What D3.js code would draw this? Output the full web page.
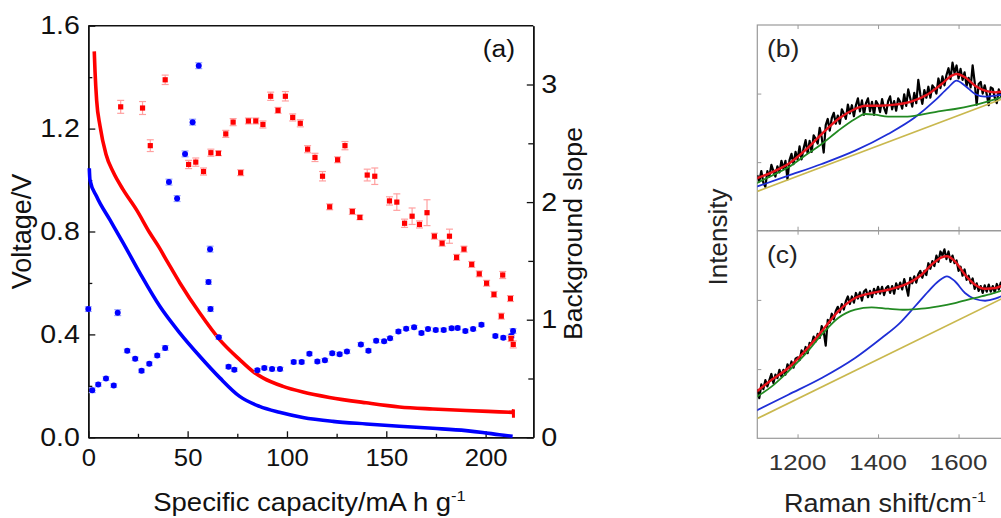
<!DOCTYPE html>
<html>
<head>
<meta charset="utf-8">
<script src="https://cdn.jsdelivr.net/npm/d3@7"></script>
<style>
  body { margin: 0; background: #fff; }
  svg { display: block; font-family: Arial, "Liberation Sans", sans-serif; }
</style>
</head>
<body>
<svg id="chart" width="1001" height="518"></svg>
<script>
// ---- (a) voltage curves ----
const redCurveCap = [3.0, 3.4, 4.2, 5.9, 8.9, 12.6, 17.6, 24.3, 31.0, 35.5, 40, 46.1, 56.1, 66.2, 76.2, 82.9, 87.9, 98, 108, 121.4, 139.9, 156.6, 173.4, 190.1, 206.9, 213.6, 214, 214];
const redCurveV = [1.50, 1.42, 1.31, 1.21, 1.10, 1.03, 0.962, 0.884, 0.794, 0.74, 0.68, 0.60, 0.483, 0.379, 0.302, 0.256, 0.231, 0.198, 0.176, 0.155, 0.134, 0.118, 0.110, 0.104, 0.099, 0.097, 0.108, 0.076];
const blueCurveCap = [0.5, 0.85, 4.2, 10.9, 17.6, 26, 36, 46.1, 56.1, 66.2, 76.2, 86.2, 96.2, 108, 123.1, 139.9, 156.6, 173.4, 190.1, 198.5, 206.9, 213.6];
const blueCurveV = [1.046, 1.0, 0.936, 0.845, 0.755, 0.638, 0.509, 0.405, 0.315, 0.231, 0.159, 0.12, 0.097, 0.077, 0.062, 0.052, 0.043, 0.035, 0.026, 0.019, 0.010, 0.004];

// ---- (a) background slope points (right axis) ----
const redCap = [16.3, 27.3, 31.2, 38.7, 50.5, 54.1, 58.0, 61.7, 65.5, 69.2, 72.9, 76.7, 80.6, 84.3, 87.9, 91.8, 95.5, 99.2, 102.9, 106.7, 110.4, 114.1, 117.9, 121.5, 125.5, 129.2, 132.9, 136.7, 140.4, 144.2, 151.6, 155.3, 159.2, 163.0, 166.7, 170.5, 174.2, 178.1, 181.8, 185.4, 189.1, 193.0, 196.8, 200.5, 204.2, 207.9, 208.6, 212.5, 212.8, 213.9];
const redSlope = [2.81, 2.80, 2.48, 3.04, 2.32, 2.34, 2.26, 2.42, 2.415, 2.58, 2.68, 2.25, 2.69, 2.69, 2.66, 2.90, 2.78, 2.90, 2.72, 2.67, 2.45, 2.38, 2.22, 1.96, 2.36, 2.48, 1.92, 1.87, 2.23, 2.22, 2.01, 2.00, 1.82, 1.88, 1.81, 1.91, 1.71, 1.65, 1.71, 1.53, 1.60, 1.47, 1.39, 1.31, 1.215, 1.03, 1.38, 1.18, 0.84, 0.79];
const redErr = [0.055, 0.055, 0.05, 0.04, 0.035, 0.035, 0.03, 0.03, 0.02, 0.03, 0.03, 0.025, 0.025, 0.025, 0.03, 0.035, 0.025, 0.04, 0.03, 0.03, 0.03, 0.035, 0.04, 0.025, 0.025, 0.035, 0.025, 0.02, 0.05, 0.07, 0.035, 0.07, 0.035, 0.07, 0.03, 0.11, 0.025, 0.025, 0.06, 0.025, 0.025, 0.025, 0.025, 0.025, 0.025, 0.025, 0.03, 0.025, 0.025, 0.03];

const blueCap = [0.0, 2.0, 5.0, 8.9, 12.8, 14.8, 19.6, 23.6, 26.8, 30.7, 34.7, 38.7, 40.6, 44.7, 48.7, 52.5, 55.6, 60.5, 61.3, 61.5, 65.7, 70.6, 73.5, 85.1, 88.6, 92.5, 96.5, 103.4, 107.4, 111.3, 115.3, 119.1, 122.8, 126.5, 130.2, 137.2, 141.0, 144.9, 148.9, 151.9, 156.1, 160.0, 164.0, 167.7, 171.0, 174.9, 178.9, 182.9, 185.9, 189.8, 193.7, 197.9, 204.9, 208.9, 212.9, 213.8];
const blueSlope = [1.09, 0.40, 0.45, 0.50, 0.44, 1.06, 0.735, 0.667, 0.565, 0.625, 0.695, 0.76, 2.17, 2.03, 2.41, 2.68, 3.16, 1.32, 1.60, 1.09, 0.85, 0.60, 0.575, 0.57, 0.59, 0.58, 0.58, 0.64, 0.64, 0.71, 0.645, 0.655, 0.715, 0.707, 0.729, 0.79, 0.737, 0.82, 0.817, 0.842, 0.90, 0.924, 0.936, 0.887, 0.921, 0.913, 0.913, 0.927, 0.93, 0.904, 0.921, 0.958, 0.862, 0.847, 0.862, 0.904];
const blueErr = [0.02, 0.02, 0.015, 0.015, 0.015, 0.025, 0.015, 0.015, 0.015, 0.015, 0.015, 0.02, 0.025, 0.025, 0.025, 0.025, 0.025, 0.02, 0.025, 0.02, 0.015, 0.015, 0.015, 0.015, 0.015, 0.015, 0.015, 0.015, 0.015, 0.015, 0.015, 0.015, 0.015, 0.015, 0.015, 0.015, 0.015, 0.015, 0.015, 0.015, 0.015, 0.015, 0.015, 0.015, 0.015, 0.015, 0.015, 0.015, 0.015, 0.015, 0.015, 0.015, 0.015, 0.015, 0.015, 0.02];

const capTicks = [0, 50, 100, 150, 200];
const capMinor = [25, 75, 125, 175];
const voltTicks = [0, 0.4, 0.8, 1.2, 1.6];
const voltMinor = [0.2, 0.6, 1.0, 1.4];
const slopeTicks = [0, 1, 2, 3];
const slopeMinor = [0.5, 1.5, 2.5];

// ---- (b), (c) Raman spectra ----
// measured spectra are sampled every 5 cm-1 from 1100 to 1710
const ramanShift = d3.range(1100, 1711, 5);
const spectrumB = [
  0.81, 0.72, 0.87, 0.70, 0.64, 0.87, 0.79, 0.96, 0.87, 0.79,
  0.94, 0.85, 1.02, 0.90, 1.02, 0.75, 1.03, 1.12, 0.97, 1.15,
  1.04, 1.23, 1.04, 1.20, 1.32, 1.13, 1.31, 1.15, 1.39, 1.34,
  1.27, 1.50, 1.36, 1.14, 1.54, 1.63, 1.46, 1.64, 1.72, 1.56,
  1.68, 1.56, 1.77, 1.71, 1.63, 1.84, 1.71, 1.83, 1.67, 1.83,
  1.93, 1.74, 1.90, 1.69, 1.86, 1.93, 1.74, 1.88, 1.69, 1.89,
  1.84, 1.73, 1.92, 1.79, 1.71, 1.89, 1.96, 1.77, 1.89, 1.75,
  1.93, 1.88, 1.78, 1.99, 1.82, 2.06, 1.93, 1.81, 2.01, 1.86,
  2.20, 1.99, 1.85, 2.05, 1.94, 2.10, 1.94, 2.12, 2.08, 2.00,
  2.22, 2.08, 2.25, 2.12, 2.27, 2.37, 2.21, 2.45, 2.30, 2.41,
  2.22, 2.36, 2.20, 2.31, 2.11, 2.23, 2.09, 2.41, 2.17, 1.84,
  2.14, 2.17, 2.00, 2.12, 1.99, 1.83, 2.09, 2.07, 1.94, 1.86,
  2.06, 1.96, 2.06
];
const spectrumC = [
  0.71, 0.58, 0.78, 0.71, 0.84, 0.75, 0.84, 0.93, 0.80, 0.92,
  0.87, 0.99, 0.89, 0.99, 0.92, 1.07, 1.01, 1.11, 1.02, 1.15,
  1.17, 1.13, 1.27, 1.21, 1.32, 1.23, 1.38, 1.36, 1.47, 1.40,
  1.51, 1.45, 1.62, 1.54, 1.34, 1.71, 1.67, 1.80, 1.72, 1.84,
  1.90, 1.82, 1.94, 1.86, 1.98, 2.05, 1.94, 2.05, 1.96, 2.10,
  2.02, 2.11, 1.99, 2.12, 2.15, 2.04, 2.13, 2.04, 2.16, 2.09,
  2.19, 2.09, 2.19, 2.07, 2.17, 2.20, 2.10, 2.20, 2.09, 2.24,
  2.16, 2.25, 2.15, 2.30, 2.19, 2.06, 2.32, 2.24, 2.34, 2.25,
  2.37, 2.42, 2.32, 2.42, 2.36, 2.53, 2.45, 2.56, 2.49, 2.64,
  2.55, 2.70, 2.64, 2.73, 2.59, 2.70, 2.55, 2.64, 2.53, 2.57,
  2.42, 2.48, 2.35, 2.44, 2.29, 2.35, 2.24, 2.31, 2.16, 2.24,
  2.13, 2.20, 2.10, 2.21, 2.12, 2.22, 2.12, 2.20, 2.11, 2.23,
  2.15, 2.25, 2.17
];

const fitShiftB = [1094, 1136, 1177, 1218, 1260, 1301, 1343, 1368, 1401, 1442, 1484, 1525, 1558, 1583, 1595, 1616, 1641, 1666, 1691, 1706, 1725];
const fitB = [0.754, 0.852, 0.973, 1.167, 1.410, 1.629, 1.775, 1.823, 1.823, 1.838, 1.887, 1.994, 2.139, 2.261, 2.285, 2.237, 2.115, 2.042, 2.018, 2.027, 2.04];
const gShiftB = [1094, 1177, 1260, 1343, 1425, 1492, 1541, 1575, 1595, 1616, 1641, 1666, 1691, 1706, 1725];
const gBandB = [0.633, 0.802, 0.973, 1.167, 1.410, 1.654, 1.896, 2.091, 2.188, 2.115, 1.994, 1.954, 1.969, 1.983, 2.0];
const dShiftB = [1094, 1136, 1177, 1218, 1260, 1301, 1343, 1368, 1392, 1425, 1467, 1508, 1550, 1591, 1633, 1674, 1706, 1725];
const dBandB = [0.681, 0.802, 0.925, 1.094, 1.264, 1.458, 1.629, 1.702, 1.692, 1.663, 1.663, 1.692, 1.741, 1.775, 1.823, 1.887, 1.945, 1.98];
const baseShiftB = [1100, 1750];
const baseB = [0.573, 2.015];

const fitShiftC = [1094, 1136, 1177, 1218, 1260, 1301, 1343, 1384, 1425, 1467, 1508, 1533, 1558, 1571, 1591, 1616, 1641, 1666, 1691, 1706, 1725];
const fitC = [0.655, 0.847, 1.016, 1.257, 1.546, 1.835, 2.027, 2.100, 2.147, 2.220, 2.364, 2.509, 2.616, 2.630, 2.558, 2.364, 2.220, 2.162, 2.172, 2.197, 2.22];
const gShiftC = [1094, 1177, 1260, 1343, 1409, 1450, 1492, 1525, 1550, 1571, 1591, 1616, 1641, 1666, 1691, 1706, 1725];
const gBandC = [0.390, 0.630, 0.871, 1.160, 1.449, 1.642, 1.908, 2.124, 2.269, 2.341, 2.269, 2.100, 2.013, 1.988, 2.017, 2.052, 2.09];
const dShiftC = [1094, 1136, 1177, 1218, 1260, 1301, 1343, 1384, 1425, 1467, 1508, 1550, 1591, 1633, 1674, 1706, 1725];
const dBandC = [0.582, 0.751, 0.968, 1.208, 1.497, 1.738, 1.858, 1.893, 1.873, 1.858, 1.873, 1.908, 1.955, 2.017, 2.075, 2.133, 2.17];
const baseShiftC = [1100, 1750];
const baseC = [0.285, 2.138];

const ramanTicks = [1200, 1400, 1600];
const intensityTicks = [1, 2];

const svg = d3.select('#chart');
const FONT = 'Arial, "Liberation Sans", sans-serif';
const pair = (xs, ys) => xs.map((x, i) => [x, ys[i]]);

// the reference type is a little wider than Arial, so labels get a horizontal stretch
function label(parent, x, y, size, txt, opts = {}) {
  const { anchor = 'start', rotate = 0, sx = 1, fill = '#111' } = opts;
  const t = parent.append('text')
    .attr('transform', `translate(${x},${y}) rotate(${rotate}) scale(${sx},1)`)
    .attr('text-anchor', anchor)
    .style('font-family', FONT).style('font-size', size + 'px').style('fill', fill);
  if (Array.isArray(txt)) {
    // [main, superscript]
    t.append('tspan').text(txt[0]);
    t.append('tspan').attr('dy', -size * 0.4).style('font-size', size * 0.6 + 'px').text(txt[1]);
  } else {
    t.text(txt);
  }
  return t;
}

/**
 * Panel (a): voltage profiles + background slope scatter
 */
function drawPanelA() {
  const L = 88.3, R = 533.3, T = 25.7, B = 437.3;
  const x = d3.scaleLinear().domain([0, 224]).range([L, R]);
  const yV = d3.scaleLinear().domain([0, 1.6]).range([B, T]);
  const yS = d3.scaleLinear().domain([0, 3.5]).range([B, T]);
  const g = svg.append('g');

  // frame top line
  g.append('line').attr('x1', L).attr('x2', R).attr('y1', T).attr('y2', T)
    .style('stroke', '#111').style('stroke-width', 1.5);

  const styleAxis = (sel, size, sx) => {
    sel.select('.domain').style('stroke', '#111').style('stroke-width', 1.5);
    sel.selectAll('.tick line').style('stroke', '#111').style('stroke-width', 1.3);
    sel.selectAll('.tick text').attr('transform', `scale(${sx},1)`)
      .style('font-family', FONT).style('font-size', size + 'px').style('fill', '#111');
  };

  // left axis (ticks inward)
  const left = g.append('g').attr('transform', `translate(${L},0)`)
    .call(d3.axisLeft(yV).tickValues(voltTicks).tickFormat(d3.format('.1f')).tickSizeInner(-7).tickSizeOuter(0).tickPadding(7.5));
  styleAxis(left, 25.5, 1.12);
  const leftMinor = g.append('g').attr('transform', `translate(${L},0)`)
    .call(d3.axisLeft(yV).tickValues(voltMinor).tickFormat('').tickSizeInner(-4).tickSizeOuter(0));
  styleAxis(leftMinor, 24, 1);

  // bottom axis (ticks inward)
  const bottom = g.append('g').attr('transform', `translate(0,${B})`)
    .call(d3.axisBottom(x).tickValues(capTicks).tickSizeInner(-6).tickSizeOuter(0).tickPadding(12));
  styleAxis(bottom, 24, 1.07);
  const bottomMinor = g.append('g').attr('transform', `translate(0,${B})`)
    .call(d3.axisBottom(x).tickValues(capMinor).tickFormat('').tickSizeInner(-3.5).tickSizeOuter(0));
  styleAxis(bottomMinor, 24, 1);

  // right axis (ticks inward)
  const right = g.append('g').attr('transform', `translate(${R},0)`)
    .call(d3.axisRight(yS).tickValues(slopeTicks).tickFormat(d3.format('d')).tickSizeInner(-6.5).tickSizeOuter(0).tickPadding(7));
  styleAxis(right, 25, 1.15);
  const rightMinor = g.append('g').attr('transform', `translate(${R},0)`)
    .call(d3.axisRight(yS).tickValues(slopeMinor).tickFormat('').tickSizeInner(-5).tickSizeOuter(0));
  styleAxis(rightMinor, 24, 1);

  // voltage curves
  const lineV = d3.line().x(d => x(d[0])).y(d => yV(d[1])).curve(d3.curveMonotoneX);
  const lineEnd = d3.line().x(d => x(d[0])).y(d => yV(d[1]));
  const redPts = pair(redCurveCap, redCurveV);
  g.append('path').datum(redPts.slice(0, -2)).attr('d', lineV)
    .style('fill', 'none').style('stroke', '#ff0000').style('stroke-width', 3.6);
  g.append('path').datum(redPts.slice(-3)).attr('d', lineEnd)
    .style('fill', 'none').style('stroke', '#ff0000').style('stroke-width', 3);
  g.append('path').datum(pair(blueCurveCap, blueCurveV)).attr('d', lineV)
    .style('fill', 'none').style('stroke', '#0000ff').style('stroke-width', 3.6);

  // scatter with error bars
  const drawSeries = (caps, vals, errs, color, errColor, shape) => {
    const data = caps.map((c, i) => ({ c, v: vals[i], e: errs[i] }));
    const s = g.append('g');
    const eb = s.selectAll('g.eb').data(data).join('g').attr('class', 'eb')
      .style('stroke', errColor).style('stroke-width', 1.2);
    eb.append('line').attr('x1', d => x(d.c)).attr('x2', d => x(d.c))
      .attr('y1', d => yS(d.v + d.e)).attr('y2', d => yS(d.v - d.e));
    eb.append('line').attr('x1', d => x(d.c) - 3.5).attr('x2', d => x(d.c) + 3.5)
      .attr('y1', d => yS(d.v + d.e)).attr('y2', d => yS(d.v + d.e));
    eb.append('line').attr('x1', d => x(d.c) - 3.5).attr('x2', d => x(d.c) + 3.5)
      .attr('y1', d => yS(d.v - d.e)).attr('y2', d => yS(d.v - d.e));
    if (shape === 'square') {
      s.selectAll('rect.pt').data(data).join('rect').attr('class', 'pt')
        .attr('x', d => x(d.c) - 2.6).attr('y', d => yS(d.v) - 2.6)
        .attr('width', 5.2).attr('height', 5.2).style('fill', color);
    } else {
      s.selectAll('circle.pt').data(data).join('circle').attr('class', 'pt')
        .attr('cx', d => x(d.c)).attr('cy', d => yS(d.v)).attr('r', 3)
        .style('fill', color);
    }
  };
  drawSeries(blueCap, blueSlope, blueErr, '#0000ff', '#9aa6ff', 'circle');
  drawSeries(redCap, redSlope, redErr, '#ff0000', '#ffa0a0', 'square');

  // labels
  label(g, 515, 57, 24.5, '(a)', { anchor: 'end', sx: 1.08 });
  label(g, 309.5, 511, 25, ['Specific capacity/mA h g', '-1'], { anchor: 'middle', sx: 1.1 });
  label(g, 31, 231.5, 27, 'Voltage/V', { anchor: 'middle', rotate: -90 });
  label(g, 582, 233.5, 26.6, 'Background slope', { anchor: 'middle', rotate: -90 });
}

/**
 * Panels (b) and (c): Raman spectra with fitted components
 */
function drawRaman() {
  const L = 757.3, T = 25, M = 230.7, B = 438.3;
  const x = d3.scaleLinear().domain([1100, 1800]).range([L, L + 700 * 0.4025]);
  const R = x(1800);
  const frame = '#9a9a9a';
  const g = svg.append('g');

  const panels = [
    { id: 'b', top: T, bottom: M, label: '(b)', spec: spectrumB,
      fit: pair(fitShiftB, fitB), gBand: pair(gShiftB, gBandB), dBand: pair(dShiftB, dBandB), base: pair(baseShiftB, baseB) },
    { id: 'c', top: M, bottom: B, label: '(c)', spec: spectrumC,
      fit: pair(fitShiftC, fitC), gBand: pair(gShiftC, gBandC), dBand: pair(dShiftC, dBandC), base: pair(baseShiftC, baseC) },
  ];

  panels.forEach((p) => {
    const y = d3.scaleLinear().domain([0, 3]).range([p.bottom, p.top]);
    const clipId = `clip-${p.id}`;
    g.append('clipPath').attr('id', clipId).append('rect')
      .attr('x', L).attr('y', p.top).attr('width', R - L).attr('height', p.bottom - p.top);

    const pg = g.append('g');
    pg.append('rect').attr('x', L).attr('y', p.top).attr('width', R - L).attr('height', p.bottom - p.top)
      .style('fill', 'none').style('stroke', frame).style('stroke-width', 1.2);

    // inward ticks
    pg.append('g').attr('transform', `translate(0,${p.top})`)
      .call(d3.axisTop(x).tickValues(ramanTicks).tickFormat('').tickSizeInner(-4).tickSizeOuter(0))
      .call(a => a.select('.domain').remove())
      .selectAll('line').style('stroke', frame);
    pg.append('g').attr('transform', `translate(0,${p.bottom})`)
      .call(d3.axisBottom(x).tickValues(ramanTicks).tickFormat('').tickSizeInner(-4).tickSizeOuter(0))
      .call(a => a.select('.domain').remove())
      .selectAll('line').style('stroke', frame);
    pg.append('g').attr('transform', `translate(${L},0)`)
      .call(d3.axisLeft(y).tickValues(intensityTicks).tickFormat('').tickSizeInner(-4).tickSizeOuter(0))
      .call(a => a.select('.domain').remove())
      .selectAll('line').style('stroke', frame);

    const line = d3.line().x(d => x(d[0])).y(d => y(d[1]));
    const smooth = d3.line().x(d => x(d[0])).y(d => y(d[1])).curve(d3.curveMonotoneX);
    const cg = pg.append('g').attr('clip-path', `url(#${clipId})`);

    cg.append('path').datum(pair(ramanShift, p.spec)).attr('d', line)
      .style('fill', 'none').style('stroke', '#000').style('stroke-width', 2.2).style('stroke-linejoin', 'round');
    cg.append('path').datum(p.base).attr('d', line)
      .style('fill', 'none').style('stroke', '#c9b84e').style('stroke-width', 1.7);
    cg.append('path').datum(p.gBand).attr('d', smooth)
      .style('fill', 'none').style('stroke', '#1f2fd6').style('stroke-width', 1.8);
    cg.append('path').datum(p.dBand).attr('d', smooth)
      .style('fill', 'none').style('stroke', '#228a22').style('stroke-width', 1.8);
    cg.append('path').datum(p.fit).attr('d', smooth)
      .style('fill', 'none').style('stroke', '#e8141c').style('stroke-width', 2.4);

    label(pg, 767, p.top + 32, 24.5, p.label, { sx: 1.08, fill: '#222' });
  });

  // bottom tick labels
  g.append('g').selectAll('text').data(ramanTicks).join('text')
    .attr('transform', d => `translate(${x(d)},470) scale(1.15,1)`).attr('text-anchor', 'middle')
    .style('font-family', FONT).style('font-size', '22.5px').style('fill', '#333').text(d => d);

  label(g, 784, 512, 25.5, ['Raman shift/cm', '-1'], { sx: 1.06, fill: '#222' });
  label(g, 727, 237, 26, 'Intensity', { anchor: 'middle', rotate: -90, fill: '#222' });
}

drawPanelA();
drawRaman();
</script>
</body>
</html>
